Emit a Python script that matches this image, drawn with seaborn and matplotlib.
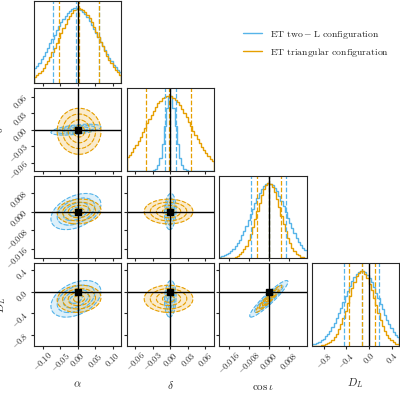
import numpy as np
import matplotlib
matplotlib.use("Agg")
import matplotlib.pyplot as plt
import seaborn as sns

sns.set_style("ticks")
plt.rcParams["font.family"] = ["DejaVu Serif"]
plt.rcParams["mathtext.fontset"] = "cm"
plt.rcParams["font.size"] = 6

# Posterior summaries (offsets from true value)
params = [r"$\alpha$", r"$\delta$", r"$\cos\iota$", r"$D_L$"]
ranges = [(-0.125, 0.125), (-0.075, 0.075), (-0.02, 0.0152), (-1.01, 0.53)]
ticks = [[-0.10, -0.05, 0.00, 0.05, 0.10],
         [-0.06, -0.03, 0.00, 0.03, 0.06],
         [-0.016, -0.008, 0.000, 0.008],
         [-0.8, -0.4, 0.0, 0.4]]
tick_fmt = ["%.2f", "%.2f", "%.3f", "%.1f"]

two_l_mean = [-0.005, 0.0, 0.0, -0.13]
two_l_std = [0.065, 0.009, 0.007, 0.31]
tri_mean = [0.004, -0.003, 0.0, -0.13]
tri_std = [0.057, 0.038, 0.0048, 0.23]
# correlations (i, j): rho
two_l_corr = {(0, 1): 0.5, (0, 2): 0.4, (0, 3): 0.4, (1, 2): 0.1, (1, 3): 0.1, (2, 3): 0.93}
tri_corr = {(0, 1): 0.0, (0, 2): 0.1, (0, 3): 0.1, (1, 2): 0.0, (1, 3): 0.0, (2, 3): 0.95}

configs = [
    (r"$\mathrm{ET\ two} - \mathrm{L\ configuration}$", "#56B4E9", two_l_mean, two_l_std, two_l_corr),
    (r"$\mathrm{ET\ triangular\ configuration}$", "#E69F00", tri_mean, tri_std, tri_corr),
]
truths = [0.0, 0.0, 0.0, 0.0]

fig, axes = plt.subplots(4, 4, figsize=(4, 4), dpi=100)
fig.subplots_adjust(left=0.085, right=0.998, bottom=0.135, top=0.998, wspace=0.06, hspace=0.06)

def gauss2d(x, y, mx, my, sx, sy, rho):
    zx = (x - mx) / sx
    zy = (y - my) / sy
    return (zx**2 - 2 * rho * zx * zy + zy**2) / (1 - rho**2)

def fmt(v, f):
    return "$" + (f % v) + "$"

for i in range(4):
    for j in range(4):
        ax = axes[i, j]
        if j > i:
            ax.axis("off")
            continue
        if i == j:
            edges = np.linspace(*ranges[i], 41)
            centres = 0.5 * (edges[1:] + edges[:-1])
            for label, col, mean, std, corr in configs:
                pdf = np.exp(-0.5 * ((centres - mean[i]) / std[i])**2)
                ax.stairs(pdf / pdf.max(), edges, color=col, lw=1)
                for q in (-1, 0, 1):
                    ax.axvline(mean[i] + q * std[i], color=col, ls="--", lw=0.9)
            ax.axvline(truths[i], color="k", lw=1)
            ax.set_ylim(0, 1.1)
            ax.set_yticks([])
        else:
            gx = np.linspace(*ranges[j], 150)
            gy = np.linspace(*ranges[i], 150)
            X, Y = np.meshgrid(gx, gy)
            for label, col, mean, std, corr in configs:
                r2 = gauss2d(X, Y, mean[j], mean[i], 0.55 * std[j], 0.55 * std[i], corr[(j, i)])
                lev = [0.5**2, 1.0, 1.5**2, 2.0**2]
                ax.contourf(X, Y, -r2, levels=[-lev[3], -lev[2], -lev[1], -lev[0], 0],
                            colors=[col], alpha=0.2)
                ax.contour(X, Y, -r2, levels=[-lev[3], -lev[2], -lev[1], -lev[0]],
                           colors=[col], linewidths=0.8)
            ax.axvline(truths[j], color="k", lw=1)
            ax.axhline(truths[i], color="k", lw=1)
            ax.plot(truths[j], truths[i], "s", color="k", ms=4)
            ax.set_ylim(ranges[i])
            ax.set_yticks(ticks[i])
            if j == 0:
                ax.set_yticklabels([fmt(t, tick_fmt[i]) for t in ticks[i]], rotation=45)
                ax.set_ylabel(params[i], fontsize=8, labelpad=1)
            else:
                ax.set_yticklabels([])
        ax.set_xlim(ranges[j])
        ax.set_xticks(ticks[j])
        if i == 3:
            ax.set_xticklabels([fmt(t, tick_fmt[j]) for t in ticks[j]], rotation=45)
            ax.set_xlabel(params[j], fontsize=8)
        else:
            ax.set_xticklabels([])
        ax.tick_params(length=2, pad=1, labelsize=6)

handles = [plt.Line2D([], [], color=c[1], lw=1) for c in configs]
fig.legend(handles, [c[0] for c in configs], loc="upper right",
           bbox_to_anchor=(0.995, 0.95), frameon=False, fontsize=7)

fig.savefig("out.png", dpi=100)
